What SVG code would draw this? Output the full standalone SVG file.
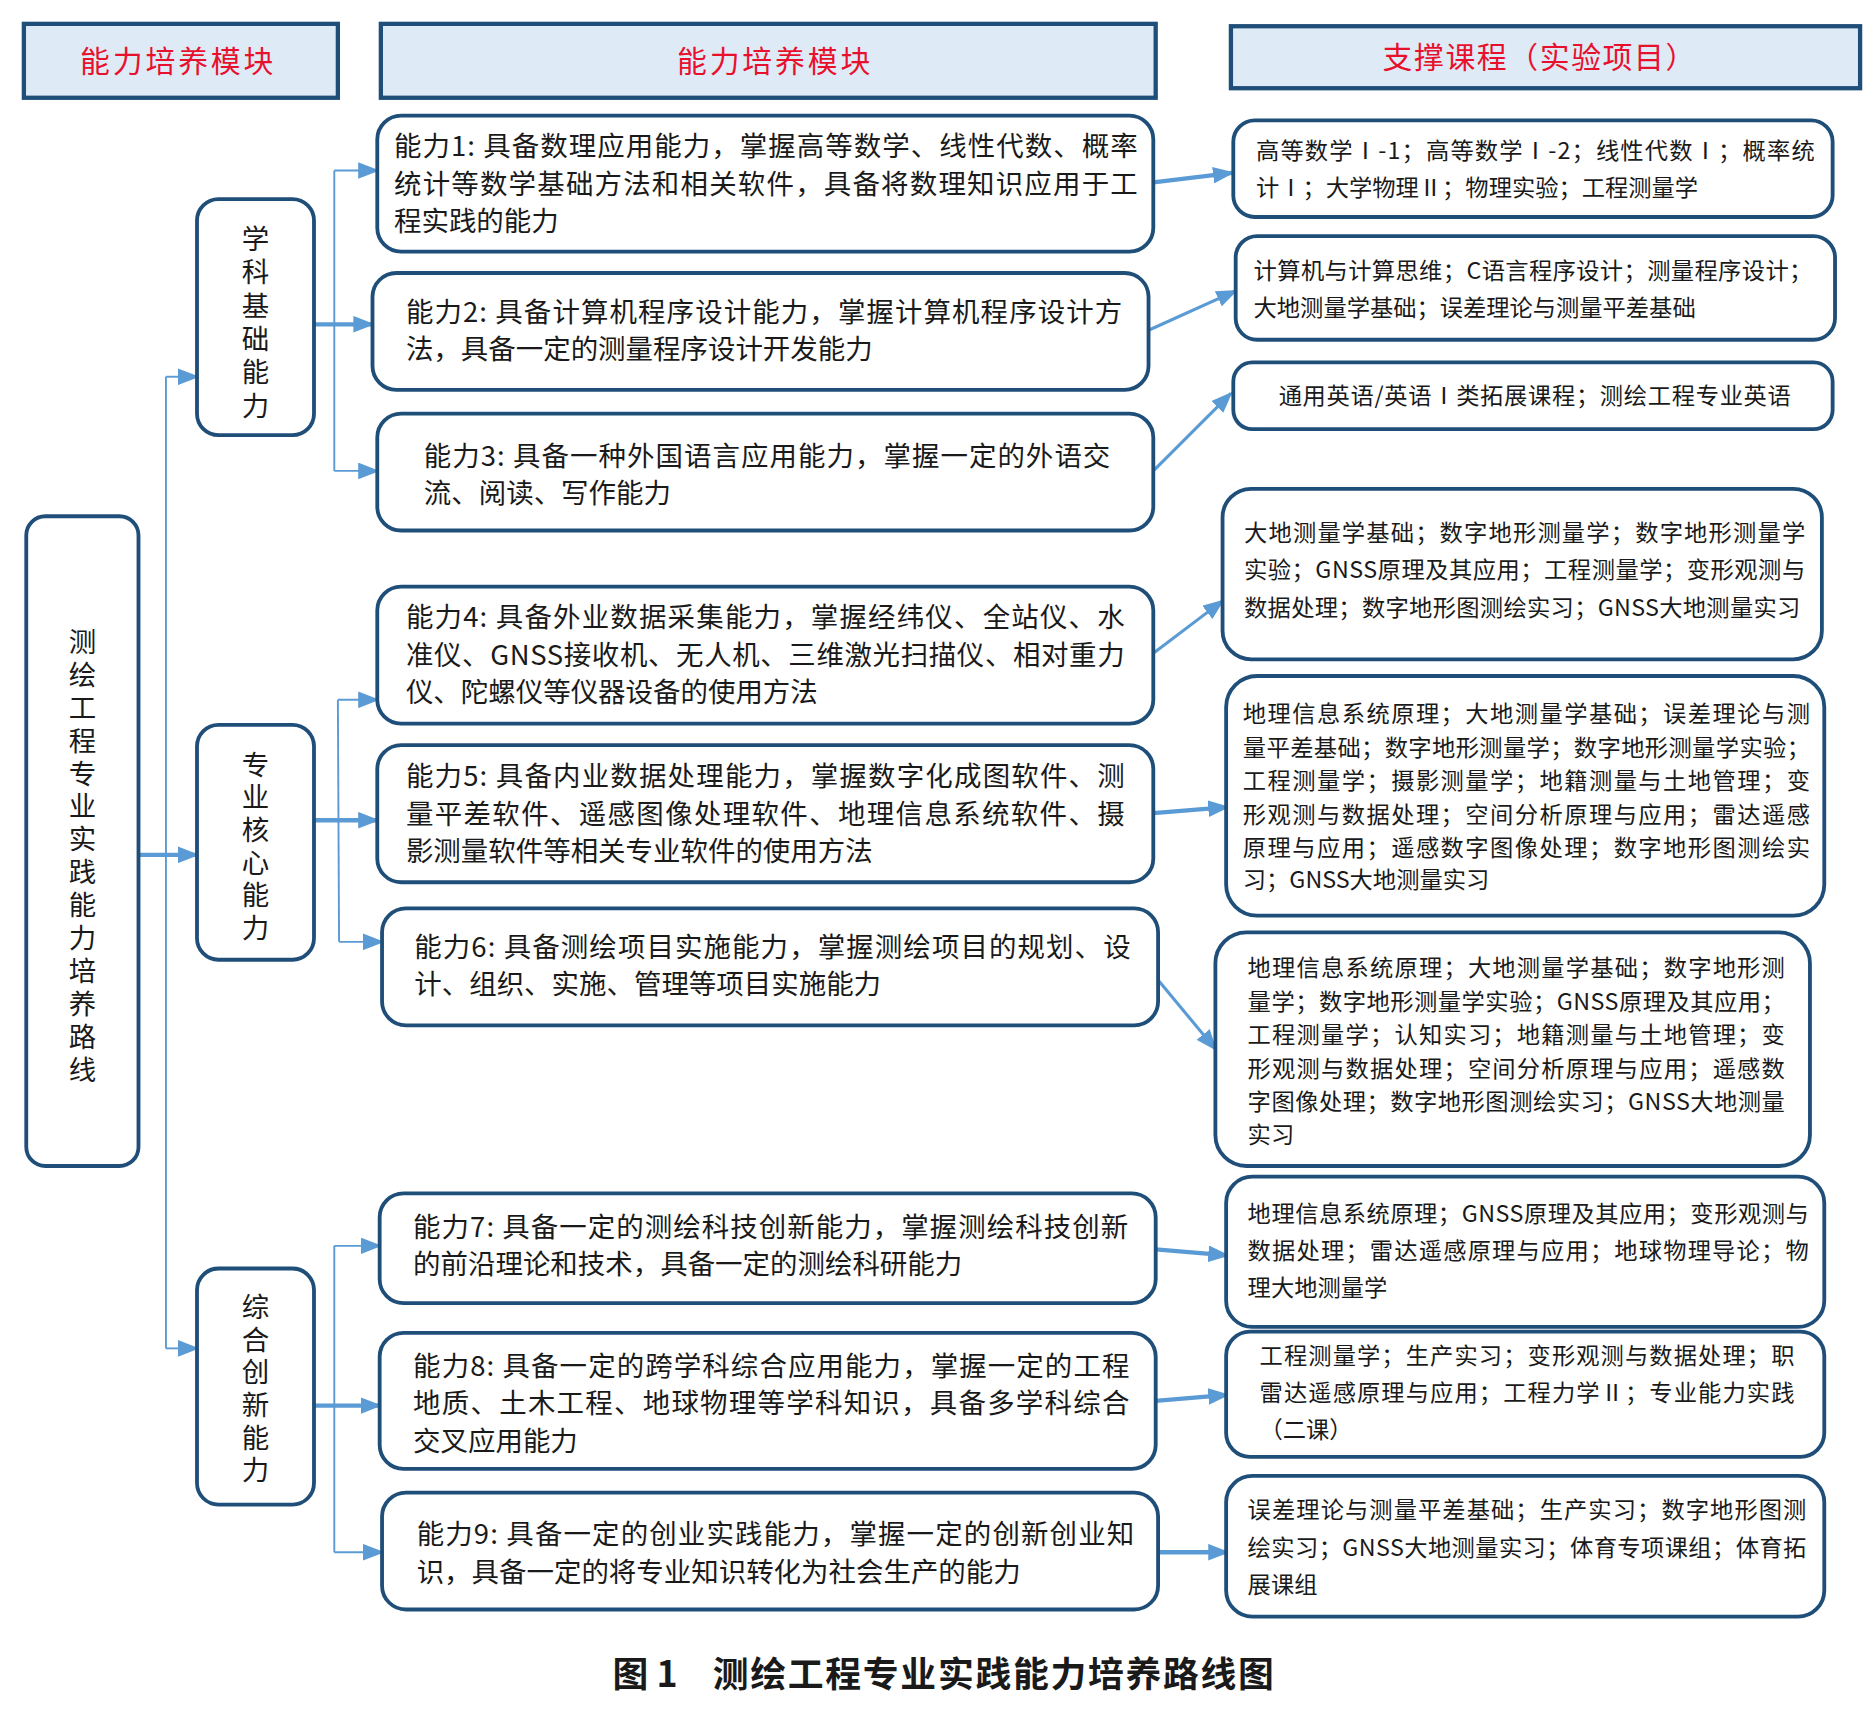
<svg xmlns="http://www.w3.org/2000/svg" width="1872" height="1712" viewBox="0 0 1872 1712">
<style>
.hdr{fill:#deebf7;stroke:#1f4e79;stroke-width:3.6}
.box{fill:#fff;stroke:#1f4e79;stroke-width:3.2}
text{font-family:"Noto Sans CJK SC","Noto Sans",sans-serif;fill:#1a1a1a}
.ht{font-size:25px;fill:#e8112d;text-anchor:middle}
.t{font-size:23px}
.c{font-size:19.5px}
.v{font-size:23px;writing-mode:vertical-rl;text-orientation:upright}
.cap{font-size:30px;font-weight:bold}
.ln{stroke:#5b9bd5;fill:none}
.thin{stroke-width:1.6}
.mid{stroke-width:2.6}
.thick{stroke-width:3.6}
</style>
<defs>
<marker id="ah" markerUnits="userSpaceOnUse" markerWidth="18" markerHeight="14" refX="16" refY="7" orient="auto">
<path d="M0,0 L18,7 L0,14 Z" fill="#5b9bd5"/>
</marker>
</defs>
<rect width="1872" height="1712" fill="#fff"/>
<g transform="scale(1.1939,1.1922)">
<g id="headers">
<g id="hdr1"><rect class="hdr" x="20" y="20" width="263" height="62"/><text class="ht" x="148" y="60" textLength="162">能力培养模块</text></g>
<g id="hdr2"><rect class="hdr" x="319" y="20" width="649" height="62"/><text class="ht" x="648" y="60" textLength="162">能力培养模块</text></g>
<g id="hdr3"><rect class="hdr" x="1031" y="22" width="527" height="52"/><text class="ht" x="1289" y="57" textLength="262">支撑课程（实验项目）</text></g>
</g>
<g id="connectors">
<line class="ln thin" x1="139" y1="316" x2="139" y2="1131"/>
<line class="ln thin" x1="139" y1="316" x2="165" y2="316" marker-end="url(#ah)"/>
<line class="ln thin" x1="139" y1="1131" x2="165" y2="1131" marker-end="url(#ah)"/>
<line class="ln thick" x1="116" y1="717" x2="165" y2="717" marker-end="url(#ah)"/>
<line class="ln thin" x1="280" y1="143" x2="280" y2="395"/>
<line class="ln thin" x1="280" y1="143" x2="316" y2="143" marker-end="url(#ah)"/>
<line class="ln thin" x1="280" y1="395" x2="316" y2="395" marker-end="url(#ah)"/>
<line class="ln thick" x1="263" y1="272" x2="312" y2="272" marker-end="url(#ah)"/>
<line class="ln thin" x1="283" y1="587" x2="284" y2="790"/>
<line class="ln thin" x1="283" y1="587" x2="316" y2="587" marker-end="url(#ah)"/>
<line class="ln thin" x1="284" y1="790" x2="320" y2="790" marker-end="url(#ah)"/>
<line class="ln thick" x1="264" y1="688" x2="316" y2="688" marker-end="url(#ah)"/>
<line class="ln thin" x1="280" y1="1045" x2="280" y2="1302"/>
<line class="ln thin" x1="280" y1="1045" x2="318" y2="1045" marker-end="url(#ah)"/>
<line class="ln thin" x1="280" y1="1302" x2="320" y2="1302" marker-end="url(#ah)"/>
<line class="ln thick" x1="264" y1="1179" x2="318" y2="1179" marker-end="url(#ah)"/>
<line class="ln thick" x1="966" y1="153" x2="1032" y2="145" marker-end="url(#ah)"/>
<line class="ln mid" x1="962" y1="277" x2="1035" y2="244" marker-end="url(#ah)"/>
<line class="ln mid" x1="966" y1="395" x2="1031" y2="330" marker-end="url(#ah)"/>
<line class="ln mid" x1="966" y1="548" x2="1024" y2="504" marker-end="url(#ah)"/>
<line class="ln thick" x1="966" y1="682" x2="1028" y2="677" marker-end="url(#ah)"/>
<line class="ln mid" x1="970" y1="822" x2="1018" y2="880" marker-end="url(#ah)"/>
<line class="ln thick" x1="968" y1="1048" x2="1028" y2="1053" marker-end="url(#ah)"/>
<line class="ln thick" x1="968" y1="1175" x2="1028" y2="1170" marker-end="url(#ah)"/>
<line class="ln thick" x1="970" y1="1302" x2="1028" y2="1302" marker-end="url(#ah)"/>
</g>
<g id="root">
<rect class="box" x="22" y="433" width="94" height="545" rx="16"/>
<text class="v" x="69" y="526.5" textLength="382">测绘工程专业实践能力培养路线</text>
</g>
<g id="m1">
<rect class="box" x="165" y="167" width="98" height="198" rx="18"/>
<text class="v" x="214" y="188.5" textLength="163">学科基础能力</text>
</g>
<g id="m2">
<rect class="box" x="165" y="608" width="98" height="197" rx="18"/>
<text class="v" x="214" y="629.5" textLength="160">专业核心能力</text>
</g>
<g id="m3">
<rect class="box" x="165" y="1064" width="98" height="198" rx="18"/>
<text class="v" x="214" y="1084.5" textLength="160">综合创新能力</text>
</g>
<g id="a1">
<rect class="box" x="316" y="97" width="650" height="114" rx="20"/>
<text class="t" x="330" y="131" textLength="623">能力1: 具备数理应用能力，掌握高等数学、线性代数、概率</text>
<text class="t" x="330" y="163" textLength="623">统计等数学基础方法和相关软件，具备将数理知识应用于工</text>
<text class="t" x="330" y="194">程实践的能力</text>
</g>
<g id="a2">
<rect class="box" x="312" y="229" width="650" height="98" rx="20"/>
<text class="t" x="340" y="270" textLength="600">能力2: 具备计算机程序设计能力，掌握计算机程序设计方</text>
<text class="t" x="340" y="301">法，具备一定的测量程序设计开发能力</text>
</g>
<g id="a3">
<rect class="box" x="316" y="347" width="650" height="98" rx="20"/>
<text class="t" x="355" y="391" textLength="575">能力3: 具备一种外国语言应用能力，掌握一定的外语交</text>
<text class="t" x="355" y="422">流、阅读、写作能力</text>
</g>
<g id="a4">
<rect class="box" x="316" y="492" width="650" height="115" rx="20"/>
<text class="t" x="340" y="526" textLength="602">能力4: 具备外业数据采集能力，掌握经纬仪、全站仪、水</text>
<text class="t" x="340" y="558" textLength="602">准仪、GNSS接收机、无人机、三维激光扫描仪、相对重力</text>
<text class="t" x="340" y="589">仪、陀螺仪等仪器设备的使用方法</text>
</g>
<g id="a5">
<rect class="box" x="316" y="625" width="650" height="115" rx="20"/>
<text class="t" x="340" y="659" textLength="602">能力5: 具备内业数据处理能力，掌握数字化成图软件、测</text>
<text class="t" x="340" y="691" textLength="602">量平差软件、遥感图像处理软件、地理信息系统软件、摄</text>
<text class="t" x="340" y="722">影测量软件等相关专业软件的使用方法</text>
</g>
<g id="a6">
<rect class="box" x="320" y="762" width="650" height="98" rx="20"/>
<text class="t" x="347" y="803" textLength="600">能力6: 具备测绘项目实施能力，掌握测绘项目的规划、设</text>
<text class="t" x="347" y="834">计、组织、实施、管理等项目实施能力</text>
</g>
<g id="a7">
<rect class="box" x="318" y="1001" width="650" height="92" rx="20"/>
<text class="t" x="346" y="1038" textLength="599">能力7: 具备一定的测绘科技创新能力，掌握测绘科技创新</text>
<text class="t" x="346" y="1069">的前沿理论和技术，具备一定的测绘科研能力</text>
</g>
<g id="a8">
<rect class="box" x="318" y="1118" width="650" height="114" rx="20"/>
<text class="t" x="346" y="1154" textLength="600">能力8: 具备一定的跨学科综合应用能力，掌握一定的工程</text>
<text class="t" x="346" y="1185" textLength="600">地质、土木工程、地球物理等学科知识，具备多学科综合</text>
<text class="t" x="346" y="1217">交叉应用能力</text>
</g>
<g id="a9">
<rect class="box" x="320" y="1252" width="650" height="98" rx="20"/>
<text class="t" x="349" y="1295" textLength="601">能力9: 具备一定的创业实践能力，掌握一定的创新创业知</text>
<text class="t" x="349" y="1327">识，具备一定的将专业知识转化为社会生产的能力</text>
</g>
<g id="c1">
<rect class="box" x="1033" y="101" width="502" height="81" rx="18"/>
<text class="c" x="1052" y="133" textLength="468">高等数学Ⅰ-1；高等数学Ⅰ-2；线性代数Ⅰ；概率统</text>
<text class="c" x="1052" y="164">计Ⅰ；大学物理Ⅱ；物理实验；工程测量学</text>
</g>
<g id="c2">
<rect class="box" x="1035" y="198" width="502" height="87" rx="18"/>
<text class="c" x="1050" y="234" textLength="468">计算机与计算思维；C语言程序设计；测量程序设计；</text>
<text class="c" x="1050" y="265">大地测量学基础；误差理论与测量平差基础</text>
</g>
<g id="c3">
<rect class="box" x="1033" y="304" width="502" height="56" rx="16"/>
<text class="c" x="1071" y="339" textLength="429">通用英语/英语Ⅰ类拓展课程；测绘工程专业英语</text>
</g>
<g id="c4">
<rect class="box" x="1024" y="410" width="502" height="143" rx="24"/>
<text class="c" x="1042" y="454" textLength="470">大地测量学基础；数字地形测量学；数字地形测量学</text>
<text class="c" x="1042" y="485" textLength="470">实验；GNSS原理及其应用；工程测量学；变形观测与</text>
<text class="c" x="1042" y="517" textLength="466">数据处理；数字地形图测绘实习；GNSS大地测量实习</text>
</g>
<g id="c5">
<rect class="box" x="1027" y="567" width="501" height="201" rx="26"/>
<text class="c" x="1041" y="606" textLength="475">地理信息系统原理；大地测量学基础；误差理论与测</text>
<text class="c" x="1041" y="634" textLength="475">量平差基础；数字地形测量学；数字地形测量学实验；</text>
<text class="c" x="1041" y="662" textLength="475">工程测量学；摄影测量学；地籍测量与土地管理；变</text>
<text class="c" x="1041" y="690" textLength="475">形观测与数据处理；空间分析原理与应用；雷达遥感</text>
<text class="c" x="1041" y="718" textLength="475">原理与应用；遥感数字图像处理；数字地形图测绘实</text>
<text class="c" x="1041" y="745">习；GNSS大地测量实习</text>
</g>
<g id="c6">
<rect class="box" x="1018" y="782" width="498" height="196" rx="26"/>
<text class="c" x="1045" y="819" textLength="450">地理信息系统原理；大地测量学基础；数字地形测</text>
<text class="c" x="1045" y="847" textLength="450">量学；数字地形测量学实验；GNSS原理及其应用；</text>
<text class="c" x="1045" y="875" textLength="450">工程测量学；认知实习；地籍测量与土地管理；变</text>
<text class="c" x="1045" y="903" textLength="450">形观测与数据处理；空间分析原理与应用；遥感数</text>
<text class="c" x="1045" y="931" textLength="450">字图像处理；数字地形图测绘实习；GNSS大地测量</text>
<text class="c" x="1045" y="959">实习</text>
</g>
<g id="c7">
<rect class="box" x="1027" y="987" width="501" height="126" rx="22"/>
<text class="c" x="1045" y="1025" textLength="470">地理信息系统原理；GNSS原理及其应用；变形观测与</text>
<text class="c" x="1045" y="1056" textLength="470">数据处理；雷达遥感原理与应用；地球物理导论；物</text>
<text class="c" x="1045" y="1087">理大地测量学</text>
</g>
<g id="c8">
<rect class="box" x="1027" y="1117" width="501" height="105" rx="20"/>
<text class="c" x="1055" y="1144" textLength="448">工程测量学；生产实习；变形观测与数据处理；职</text>
<text class="c" x="1055" y="1175" textLength="448">雷达遥感原理与应用；工程力学Ⅱ；专业能力实践</text>
<text class="c" x="1055" y="1206">（二课）</text>
</g>
<g id="c9">
<rect class="box" x="1027" y="1238" width="501" height="118" rx="22"/>
<text class="c" x="1045" y="1273" textLength="468">误差理论与测量平差基础；生产实习；数字地形图测</text>
<text class="c" x="1045" y="1305" textLength="468">绘实习；GNSS大地测量实习；体育专项课组；体育拓</text>
<text class="c" x="1045" y="1336">展课组</text>
</g>
<g id="caption">
<text class="cap" x="513" y="1415">图 1</text>
<text class="cap" x="597" y="1415" textLength="470">测绘工程专业实践能力培养路线图</text>
</g>
</g>
</svg>
